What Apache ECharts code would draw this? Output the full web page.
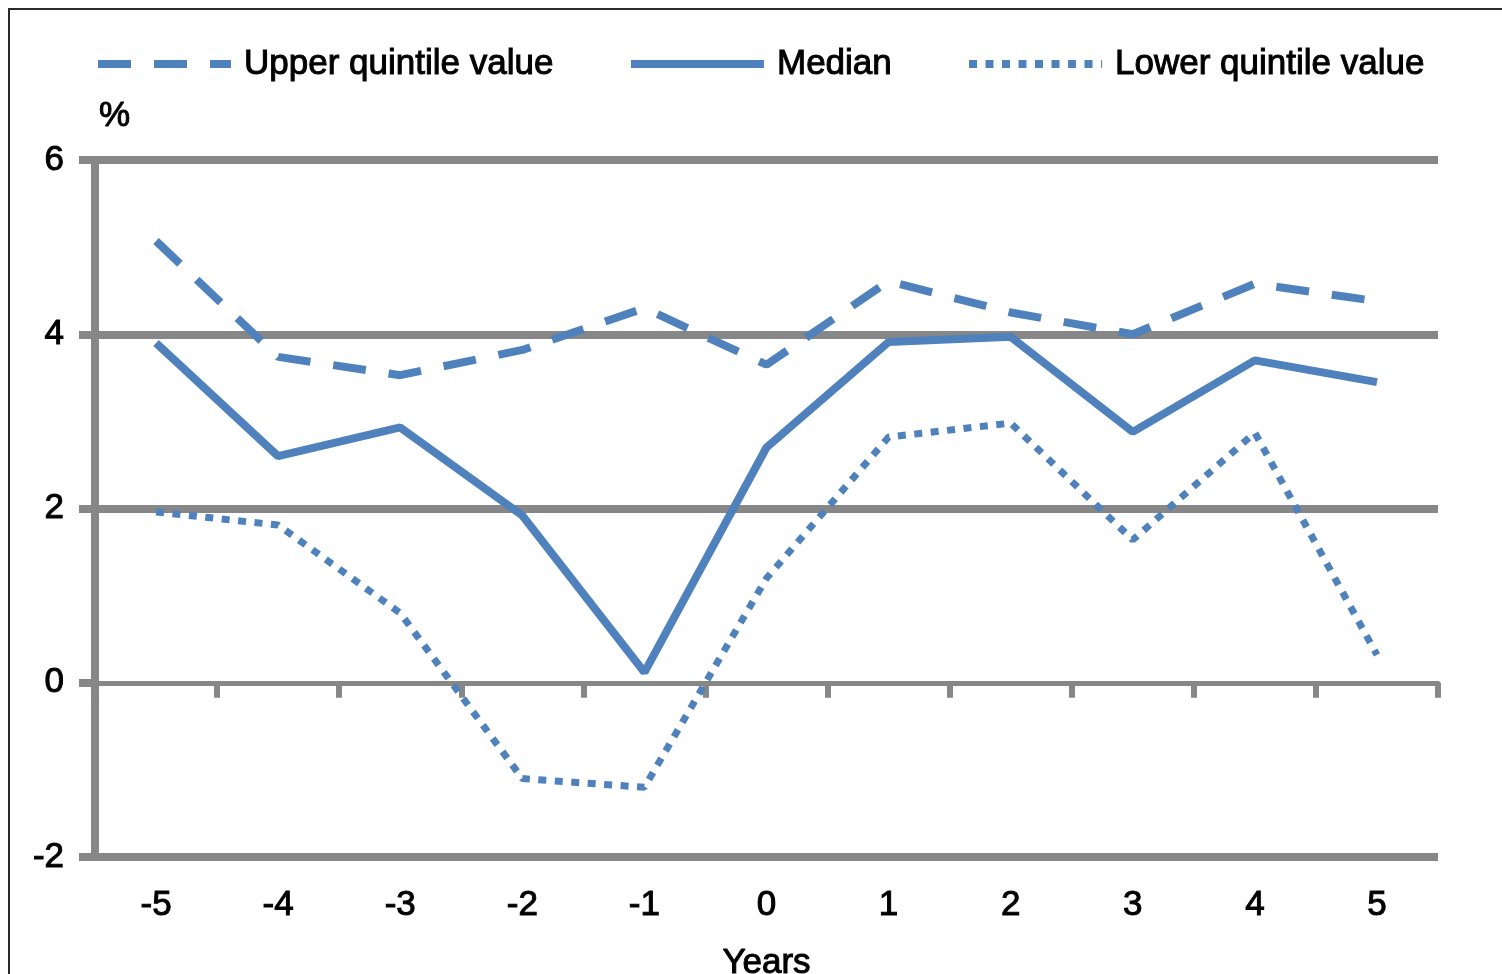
<!DOCTYPE html>
<html>
<head>
<meta charset="utf-8">
<script src="https://cdn.jsdelivr.net/npm/echarts@6/dist/echarts.min.js"></script>
<style>
  html, body { margin: 0; padding: 0; background: #fff; }
  #chart { width: 1502px; height: 974px; }
</style>
</head>
<body>
<div id="chart"></div>
<script>
// Years relative to the event, and the three distribution lines (%)
const years = ['-5', '-4', '-3', '-2', '-1', '0', '1', '2', '3', '4', '5'];
const upperQuintile = [5.07, 3.74, 3.53, 3.82, 4.30, 3.65, 4.61, 4.25, 4.00, 4.58, 4.38];
const median = [3.90, 2.60, 2.93, 1.92, 0.12, 2.70, 3.91, 3.97, 2.88, 3.70, 3.45];
const lowerQuintile = [1.96, 1.81, 0.80, -1.10, -1.20, 1.20, 2.82, 2.98, 1.64, 2.87, 0.32];
const yMin = -2;
const yMax = 6;
const yStep = 2;

const FONT = 'Liberation Sans, Arial, sans-serif';
const BLUE = '#4F81BD';
const GREY = '#878787';

// shared text look: dark, slightly heavy strokes
const TEXT = {
  fontFamily: FONT,
  fontSize: 35,
  color: '#000',
  textBorderColor: '#000',
  textBorderWidth: 1
};

const chart = echarts.init(document.getElementById('chart'), null, { renderer: 'canvas' });

function legendFor(name, left) {
  return {
    data: [name],
    left: left,
    top: 41,
    itemWidth: 133,
    itemHeight: 14,
    lineStyle: { width: 8 },
    // hide the marker dot drawn in the middle of the line icon
    itemStyle: { opacity: 0 },
    textStyle: Object.assign({}, TEXT, { padding: [0, 0, 0, 8] }),
    selectedMode: false
  };
}

chart.setOption({
  animation: false,
  backgroundColor: '#fff',
  graphic: [{
    type: 'rect',
    silent: true,
    z: -10,
    shape: { x: 9, y: 9, width: 1600, height: 1200 },
    style: { fill: 'none', stroke: '#2a2a2a', lineWidth: 2 }
  }],
  legend: [
    legendFor('Upper quintile value', 89),
    legendFor('Median', 622),
    legendFor('Lower quintile value', 960)
  ],
  grid: { left: 95, right: 64, top: 160, bottom: 117, containLabel: false, outerBoundsMode: 'none' },
  xAxis: [
    {
      // labels along the bottom of the plot
      type: 'category',
      data: years,
      position: 'bottom',
      boundaryGap: true,
      axisLine: { show: false, onZero: false },
      axisTick: { show: false },
      splitLine: { show: false },
      axisLabel: Object.assign({}, TEXT, { margin: 31 }),
      name: 'Years',
      nameLocation: 'middle',
      nameGap: 106,
      nameTextStyle: Object.assign({}, TEXT, { verticalAlign: 'middle' })
    },
    {
      // zero line with category boundary ticks
      type: 'category',
      data: years,
      position: 'bottom',
      boundaryGap: true,
      axisLine: { show: true, onZero: true, lineStyle: { color: GREY, width: 5 } },
      axisTick: { show: true, length: 15, inside: false, lineStyle: { color: GREY, width: 6 } },
      axisLabel: { show: false },
      splitLine: { show: false }
    }
  ],
  yAxis: {
    type: 'value',
    min: yMin,
    max: yMax,
    interval: yStep,
    name: '%',
    nameLocation: 'end',
    nameGap: 44,
    nameTextStyle: Object.assign({}, TEXT, { align: 'left', verticalAlign: 'middle', padding: [0, 0, 0, 4] }),
    axisLine: { show: true, lineStyle: { color: GREY, width: 8 } },
    axisTick: { show: true, length: 16, inside: false, lineStyle: { color: GREY, width: 8 } },
    axisLabel: Object.assign({}, TEXT, { margin: 31 }),
    splitLine: {
      show: true,
      // the zero level is carried by the x-axis line instead
      lineStyle: { color: [GREY, 'rgba(0,0,0,0)', GREY, GREY, GREY], width: 8 }
    }
  },
  series: [
    {
      name: 'Upper quintile value',
      type: 'line',
      xAxisIndex: 0,
      data: upperQuintile,
      symbol: 'none',
      lineStyle: { color: BLUE, width: 8, type: [33, 23], cap: 'butt' },
      itemStyle: { color: BLUE }
    },
    {
      name: 'Median',
      type: 'line',
      xAxisIndex: 0,
      data: median,
      symbol: 'none',
      lineStyle: { color: BLUE, width: 8, type: 'solid' },
      itemStyle: { color: BLUE }
    },
    {
      name: 'Lower quintile value',
      type: 'line',
      xAxisIndex: 0,
      data: lowerQuintile,
      symbol: 'none',
      lineStyle: { color: BLUE, width: 7, type: [8, 8.5], cap: 'butt' },
      itemStyle: { color: BLUE }
    }
  ]
});
</script>
</body>
</html>
